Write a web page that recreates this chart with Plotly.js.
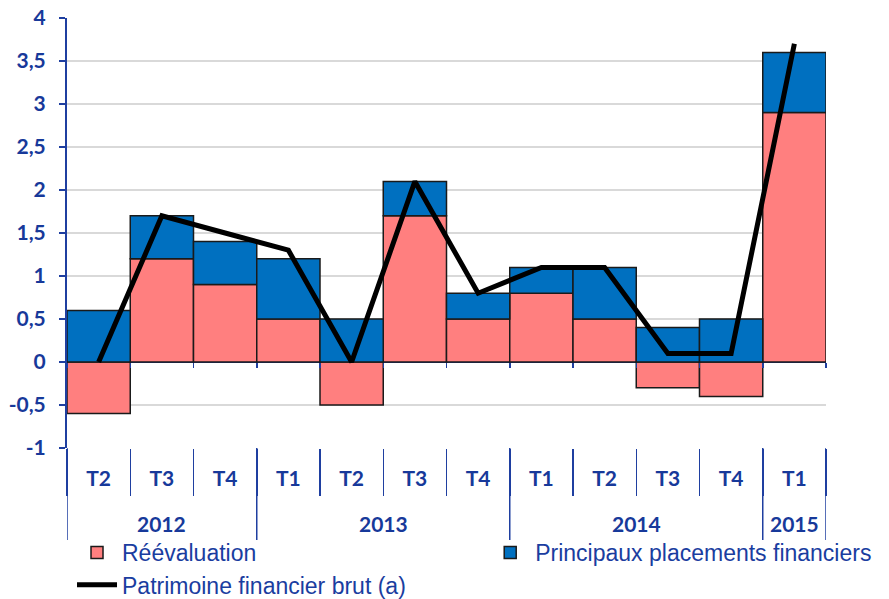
<!DOCTYPE html>
<html>
<head>
<meta charset="utf-8">
<script src="https://cdn.plot.ly/plotly-3.0.1.min.js"></script>
<style>html,body{margin:0;padding:0;background:#fff;}#chart{width:889px;height:599px;}</style>
</head>
<body>
<div id="chart"></div>
<script>
// ---- data ----
const quarters = ["T2","T3","T4","T1","T2","T3","T4","T1","T2","T3","T4","T1"];
const years    = ["2012","2012","2012","2013","2013","2013","2013","2014","2014","2014","2014","2015"];
const reevaluation = [-0.6, 1.2, 0.9, 0.5, -0.5, 1.7, 0.5, 0.8, 0.5, -0.3, -0.4, 2.9];
const placements   = [0.6, 0.5, 0.5, 0.7, 0.5, 0.4, 0.3, 0.3, 0.6, 0.4, 0.5, 0.7];
const patrimoine   = [0.0, 1.7, 1.5, 1.3, 0.0, 2.1, 0.8, 1.1, 1.1, 0.1, 0.1, 3.7];
const yTickVals = [-1, -0.5, 0, 0.5, 1, 1.5, 2, 2.5, 3, 3.5, 4];
const yTickText = ["-1", "-0,5", "0", "0,5", "1", "1,5", "2", "2,5", "3", "3,5", "4"];
const seriesNames = ["Réévaluation", "Principaux placements financiers", "Patrimoine financier brut (a)"];

// unique category keys
const cats = quarters.map((q, i) => q + " " + years[i]);

// year groups
const yearGroups = [];
years.forEach((y, i) => {
  const last = yearGroups[yearGroups.length - 1];
  if (last && last.year === y) last.end = i; else yearGroups.push({year: y, start: i, end: i});
});

const textBlue = "#17399a";
const axisBlue = "#1f3fa0";
const tickFont = {family: "Lato, 'Open Sans', sans-serif", size: 21, color: textBlue, weight: 700};
const legendFont = {family: "'Liberation Sans', Arial, sans-serif", size: 23, color: "#1a3da0"};

const traces = [
  {type: "bar", name: seriesNames[0], x: cats, y: reevaluation, legend: "legend",
   marker: {color: "#ff7f7f", line: {color: "#1a1a1a", width: 1.5}}, hoverinfo: "skip"},
  {type: "bar", name: seriesNames[1], x: cats, y: placements, legend: "legend2",
   marker: {color: "#0070c0", line: {color: "#1a1a1a", width: 1.5}}, hoverinfo: "skip"},
  {type: "scatter", mode: "lines", name: seriesNames[2], x: cats, y: patrimoine, xaxis: "x2", yaxis: "y",
   legend: "legend3", line: {color: "#000000", width: 5}, hoverinfo: "skip"}
];

const shapes = [];
const annotations = [];
const boundaries = [];
yearGroups.forEach((g, k) => {
  if (k === 0) boundaries.push(g.start - 0.5);
  boundaries.push(g.end + 0.5);
  annotations.push({xref: "x", yref: "paper", x: (g.start + g.end) / 2, y: -0.175,
    text: g.year, showarrow: false, yanchor: "middle", xanchor: "center", font: tickFont});
});
boundaries.forEach(b => shapes.push({type: "line", xref: "x", yref: "paper", x0: b, x1: b, y0: 0, y1: -0.214,
  line: {color: axisBlue, width: 1.5}, layer: "above"}));

const legendBase = {orientation: "h", xanchor: "left", yanchor: "top", font: legendFont,
  itemwidth: 40, bgcolor: "rgba(0,0,0,0)", borderwidth: 0};

const layout = {
  width: 889, height: 599,
  margin: {l: 67, r: 63, t: 18, b: 151, autoexpand: false},
  paper_bgcolor: "#ffffff", plot_bgcolor: "#ffffff",
  barmode: "relative", bargap: 0,
  showlegend: true,
  xaxis: {type: "category", categoryorder: "array", categoryarray: cats, range: [-0.5, 11.5],
    tickvals: cats, ticktext: quarters, tickson: "boundaries",
    ticks: "outside", ticklen: 47, tickwidth: 1.5, tickcolor: axisBlue,
    ticklabelstandoff: 16,
    showline: false, showgrid: false, zeroline: false, tickfont: tickFont, fixedrange: true},
  xaxis2: {type: "category", overlaying: "x", anchor: "free", position: 0.2, side: "bottom",
    categoryorder: "array", categoryarray: cats, range: [-0.5, 11.5], tickson: "boundaries",
    ticks: "outside", ticklen: 5, tickwidth: 1.5, tickcolor: axisBlue,
    showticklabels: false, showline: false, showgrid: false, zeroline: false, fixedrange: true},
  yaxis: {range: [-1, 4], tickvals: yTickVals, ticktext: yTickText,
    ticks: "outside", ticklen: 6, tickwidth: 1.5, tickcolor: axisBlue,
    showline: true, linecolor: axisBlue, linewidth: 2,
    showgrid: true, gridcolor: "#d9d9d9", gridwidth: 1.5,
    zeroline: true, zerolinecolor: axisBlue, zerolinewidth: 1.5,
    tickfont: tickFont, ticklabelstandoff: 9, fixedrange: true},
  yaxis2: {overlaying: "y", side: "right", anchor: "x", range: [-1, 4], tickvals: yTickVals, ticktext: yTickText,
    ticks: "outside", ticklen: 6, tickwidth: 1.5, tickcolor: axisBlue,
    showline: true, linecolor: axisBlue, linewidth: 2, showgrid: false, zeroline: false,
    tickfont: tickFont, ticklabelstandoff: 9, fixedrange: true},
  legend: Object.assign({}, legendBase, {x: 0.0066, y: -0.193}),
  legend2: Object.assign({}, legendBase, {x: 0.551, y: -0.193}),
  legend3: Object.assign({}, legendBase, {x: 0.0066, y: -0.268}),
  shapes: shapes,
  annotations: annotations
};

Plotly.newPlot("chart", traces, layout, {displayModeBar: false, staticPlot: true});
</script>
</body>
</html>
